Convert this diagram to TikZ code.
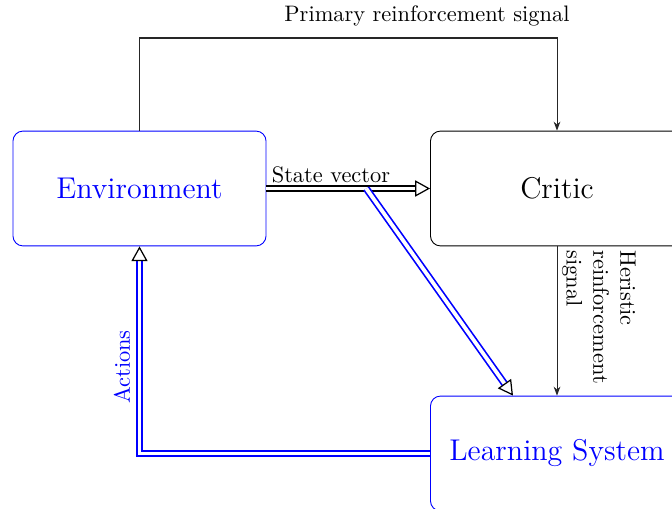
\documentclass[tikz,border=0pt]{standalone}
\usetikzlibrary{arrows.meta,calc}

\tikzset{
  box/.style={draw, rounded corners=4.5pt, minimum width=113pt, minimum height=51.3pt,
    inner sep=0pt, font=\fontsize{13.4}{16}\selectfont},
  bluebox/.style={box, draw=blue, text=blue},
  sig/.style={draw=black!85, line width=0.45pt, -{Stealth[length=4pt,width=3pt]}},
  dbl/.style={draw=blue, line width=0.75pt, double=white, double distance=1.7pt,
    -{Triangle[open,length=6.6pt,width=7.2pt,color=black,fill=white,line width=0.55pt]}},
  dblblack/.style={dbl, draw=black},
}

\begin{document}
\begin{tikzpicture}[x=0.4465pt, y=-0.4465pt]
  \useasboundingbox (0,0) rectangle (672,509);

  % blocks
  \node[bluebox] (env)    at (139.5,188.5) {Environment};
  \node[box]     (critic) at (557,188.5)   {Critic};
  \node[bluebox] (learn)  at (557,453.5)   {Learning System};

  % primary reinforcement loop over the top
  \coordinate (top) at (0,38);
  \draw[sig] (env.north) -- (env.north |- top) -- (critic.north |- top) -- (critic.north);
  \node[above] (primlbl) at (427,34) {Primary reinforcement signal};

  % state vector into the critic
  \draw[dblblack] (env.east) -- (critic.west)
    node[pos=0, above right, inner sep=2pt] (statelbl) {State vector};

  % state vector branch into the learning system
  \coordinate (split) at ($(env.east)!0.61!(critic.west)$);
  \coordinate (learnin) at ($(learn.north)+(-44,0)$);
  \draw[dbl] (split) -- (learnin);

  % heuristic signal from the critic
  \draw[sig] (critic.south) -- (learn.north);
  \node[rotate=-90, anchor=north west, align=left, inner sep=0pt] (heurlbl) at (636,250)
    {Heristic\\reinforcement\\signal};

  % actions back to the environment
  \draw[dbl] (learn.west) -| (env.south);
  \node[rotate=90, text=blue] (actlbl) at (122,367) {Actions};
\end{tikzpicture}
\end{document}
